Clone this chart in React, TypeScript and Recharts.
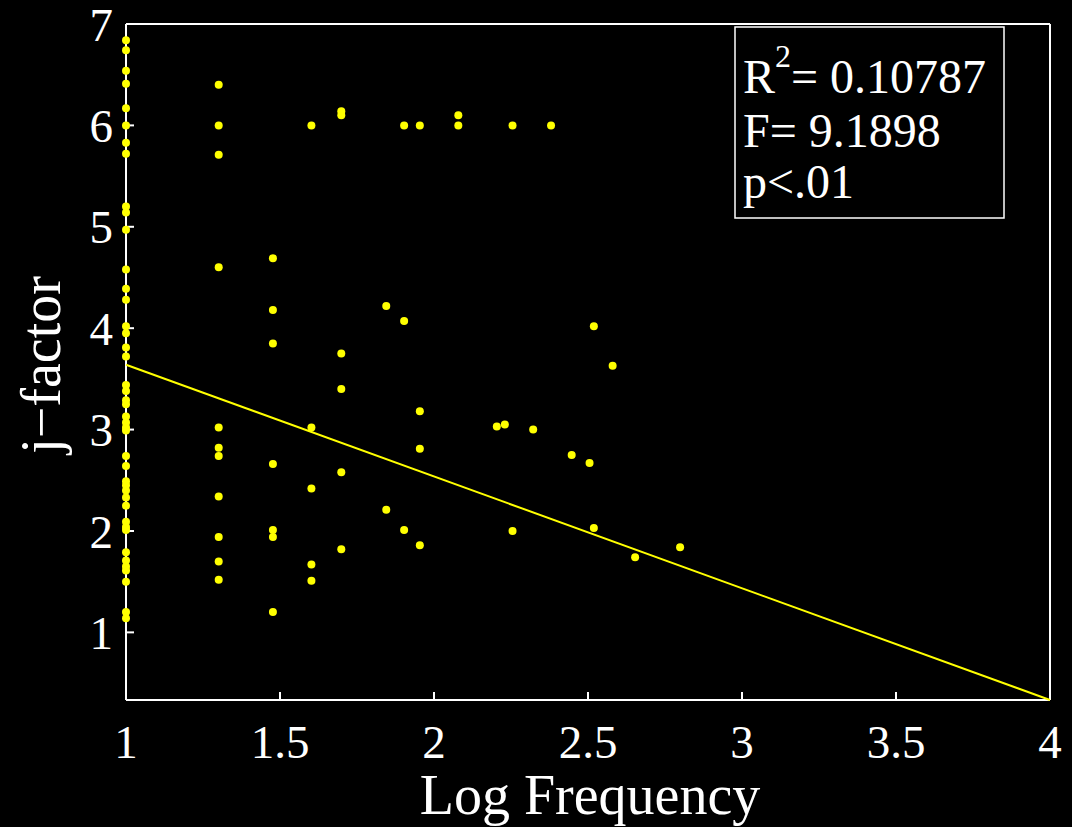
import React from 'react';
import { ScatterChart, Scatter, XAxis, YAxis } from 'recharts';

// log10 frequency columns and the j-factor values seen in each column
const logFrequency = [1, 1.301, 1.477, 1.602, 1.699, 1.845, 1.903, 1.954, 2.079, 2.204, 2.23, 2.255, 2.322, 2.38, 2.447, 2.505, 2.519, 2.58, 2.653, 2.799];
const jFactor = [
    [6.84, 6.74, 6.54, 6.41, 6.17, 6.0, 5.83, 5.72, 5.2, 5.14, 4.97, 4.58, 4.39, 4.28, 4.02, 3.95, 3.81, 3.72, 3.44, 3.38, 3.29, 3.25, 3.13, 3.07, 3.02, 2.99, 2.74, 2.64, 2.49, 2.45, 2.4, 2.33, 2.25, 2.09, 2.04, 2.01, 1.79, 1.71, 1.65, 1.61, 1.5, 1.2, 1.14],
    [6.4, 6.0, 5.71, 4.6, 3.02, 2.82, 2.74, 2.34, 1.94, 1.7, 1.52],
    [4.69, 4.18, 3.85, 2.66, 2.01, 1.94, 1.2],
    [6.0, 3.02, 2.42, 1.67, 1.51],
    [6.14, 6.1, 3.75, 3.4, 2.58, 1.82],
    [4.22, 2.21],
    [6.0, 4.07, 2.01],
    [6.0, 3.18, 2.81, 1.86],
    [6.1, 6.0],
    [3.03],
    [3.05],
    [6.0, 2.0],
    [3.0],
    [6.0],
    [2.75],
    [2.67],
    [4.02, 2.03],
    [3.63],
    [1.74],
    [1.84],
];

// regression line end points
const fitLogFrequency = [1, 4];
const fitJFactor = [3.64, 0.333];

const xTicks = [1, 1.5, 2, 2.5, 3, 3.5, 4];
const yTicks = [1, 2, 3, 4, 5, 6, 7];
const xDomain = [1, 4];
const yDomain = [0.333, 7];

const rSquared = '0.10787';
const fStat = '9.1898';
const pText = 'p<.01';

const FONT = '"Liberation Serif", "Times New Roman", serif';
const YELLOW = '#ffff00';

const points = logFrequency.flatMap((x, i) => jFactor[i].map((y) => ({ x, y })));
const fitLine = fitLogFrequency.map((x, i) => ({ x, y: fitJFactor[i] }));

const tickStyle = { fill: '#fff', fontSize: 47, fontFamily: FONT };
const axisLineStyle = { stroke: '#fff', strokeWidth: 2 };

const Dot = (props: any) => <circle cx={props.cx} cy={props.cy} r={4} fill={YELLOW} />;

export default function App() {
    return (
        <div style={{ position: 'relative', width: 1072, height: 827, background: '#000', fontFamily: FONT }}>
            <style>{`body{margin:0;background:#000;}`}</style>
            <ScatterChart width={1072} height={827} margin={{ top: 23, right: 21, bottom: 0, left: 0 }}>
                <XAxis
                    type="number"
                    dataKey="x"
                    domain={xDomain}
                    ticks={xTicks}
                    interval={0}
                    height={127}
                    tickSize={-8}
                    tickMargin={33}
                    tick={tickStyle}
                    axisLine={axisLineStyle}
                    tickLine={axisLineStyle}
                />
                {/* top and right box edges, ticks pointing in like the matlab box */}
                <XAxis
                    xAxisId="top"
                    orientation="top"
                    type="number"
                    dataKey="x"
                    domain={xDomain}
                    ticks={xTicks}
                    interval={0}
                    height={1}
                    tickSize={-8}
                    tick={false}
                    axisLine={axisLineStyle}
                    tickLine={axisLineStyle}
                />
                <YAxis
                    type="number"
                    dataKey="y"
                    domain={yDomain}
                    ticks={yTicks}
                    interval={0}
                    width={126}
                    tickSize={-8}
                    tickMargin={21}
                    tick={tickStyle}
                    axisLine={axisLineStyle}
                    tickLine={axisLineStyle}
                />
                <YAxis
                    yAxisId="right"
                    orientation="right"
                    type="number"
                    dataKey="y"
                    domain={yDomain}
                    ticks={yTicks}
                    interval={0}
                    width={1}
                    tickSize={-8}
                    tick={false}
                    axisLine={axisLineStyle}
                    tickLine={axisLineStyle}
                />
                <Scatter
                    data={fitLine}
                    xAxisId="top"
                    yAxisId="right"
                    line={{ stroke: YELLOW, strokeWidth: 2 }}
                    shape={() => <g />}
                    isAnimationActive={false}
                />
                <Scatter data={points} shape={Dot} isAnimationActive={false} />
            </ScatterChart>

            <svg width={1072} height={827} style={{ position: 'absolute', left: 0, top: 0, pointerEvents: 'none' }}>
                {/* axis titles */}
                <text x={590} y={814} textAnchor="middle" fill="#fff" fontSize={56} fontFamily={FONT}>Log Frequency</text>
                <text transform="translate(60,365) rotate(-90)" textAnchor="middle" fill="#fff" fontSize={56} fontFamily={FONT}>j−factor</text>

                {/* stats box */}
                <rect x={735} y={27} width={269} height={191} fill="#000" stroke="#fff" strokeWidth={1.5} />
                <text x={743} y={93} fill="#fff" fontSize={48} fontFamily={FONT}>
                    R<tspan fontSize={32} dy={-26}>2</tspan><tspan dy={26}>= {rSquared}</tspan>
                </text>
                <text x={743} y={147} fill="#fff" fontSize={48} fontFamily={FONT}>F= {fStat}</text>
                <text x={743} y={198} fill="#fff" fontSize={48} fontFamily={FONT}>{pText}</text>
            </svg>
        </div>
    );
}
